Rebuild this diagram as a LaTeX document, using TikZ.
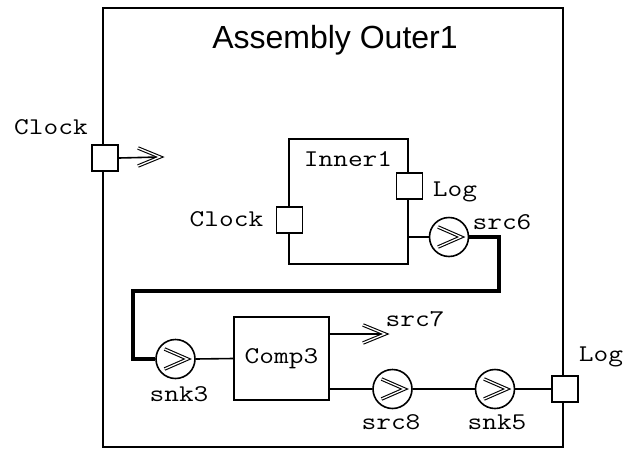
\documentclass[tikz,border=0pt]{standalone}
\usepackage{fontspec}
\setmainfont{Liberation Sans}
\newfontfamily\codefont{Latin Modern Mono}[FakeStretch=1.19]

\begin{document}
\begin{tikzpicture}[x=1pt,y=-1pt,
        code/.style={font=\codefont\fontsize{24}{28}\selectfont,inner sep=0pt},
        port/.style={draw,fill=white,line width=1.8pt,minimum size=26pt,inner sep=0pt},
        comp/.style={draw,line width=1.8pt,inner sep=0pt},
        wire/.style={line width=1.6pt},
        chev/.style={double,line width=1.1pt,double distance=1.3pt},
        flow/.style={draw,circle,fill=white,line width=1.6pt,minimum size=39pt,inner sep=0pt,
            path picture={\draw[chev] ([shift={(-11,-10)}]path picture bounding box.center)
                -- ([xshift=12pt]path picture bounding box.center)
                -- ([shift={(-11,10)}]path picture bounding box.center);}}]
        \useasboundingbox (0,0) rectangle (625,448);

        % boxes
        \node[draw,line width=2.2pt,minimum width=460pt,minimum height=439pt] (outer) at (333,227.5){};
        \node[font=\fontsize{32}{36}\selectfont,inner sep=0pt] (title) at (335,40){Assembly Outer1};
        \node[comp,minimum width=119pt,minimum height=125pt] (inner) at (348.5,201.5){};
        \node[code] (innername) at (348,159){Inner1};
        \node[comp,minimum width=95pt,minimum height=83pt,font=\codefont\fontsize{24}{28}\selectfont] (comp3) at (281.5,358.5){Comp3};

        % ports
        \node[port] (clockport) at (105,158){};
        \node[code] (clockname) at (51,127){Clock};
        \node[port] (innerclock) at (289.5,220){};
        \node[code] (innerclockname) at (226.5,219.5){Clock};
        \node[port] (innerlog) at (409.5,186){};
        \node[code] (innerlogname) at (455,192){Log};
        \node[port] (logport) at (565,389){};
        \node[code] (logname) at (601,357){Log};

        % flows
        \node[flow] (src6) at (449,237){};
        \node[code] (src6name) at (502,222){src6};
        \node[flow] (snk3) at (175.5,359){};
        \node[code] (snk3name) at (179,394){snk3};
        \node[flow] (src8) at (392.5,389){};
        \node[code] (src8name) at (391,422){src8};
        \node[flow] (snk5) at (495,389){};
        \node[code] (snk5name) at (497,422){snk5};
        \node[code] (src7name) at (415,319){src7};

        \coordinate (clocktip) at (160,157);
        \coordinate (src7tip) at (385,334);
        \coordinate (turnR) at (499,291);
        \coordinate (turnL) at (133,291);

        \path [draw,wire] (clockport.east) to (clocktip);
        \path [draw,chev] (clocktip) ++(-22,-9) -- (clocktip) -- ++(-22,9);
        \path [draw,wire] (src6.west -| inner.east) to (src6.west);
        \path [draw,line width=3.3pt] (src6.east) -| (turnR) -- (turnL) |- (snk3.west);
        \path [draw,wire] (snk3.east) to (comp3.west);
        \path [draw,wire] (src7tip -| comp3.east) to (src7tip);
        \path [draw,chev] (src7tip) ++(-22,-9) -- (src7tip) -- ++(-22,9);
        \path [draw,wire] (src8.west -| comp3.east) to (src8.west);
        \path [draw,line width=2.4pt] (src8.east) to (snk5.west);
        \path [draw,wire] (snk5.east) to (logport.west);
    \end{tikzpicture}
\end{document}
